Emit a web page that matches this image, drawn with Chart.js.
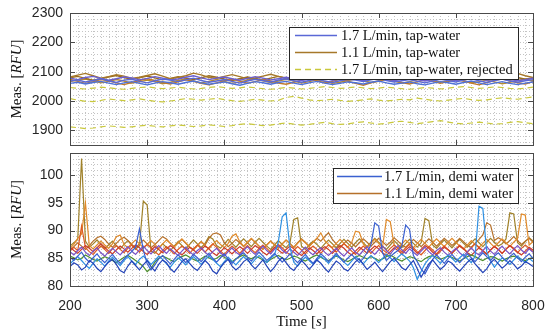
<!DOCTYPE html>
<html>
<head>
<meta charset="utf-8">
<script src="https://cdn.jsdelivr.net/npm/chart.js@4.4.0/dist/chart.umd.min.js"></script>
<style>
  html, body { margin: 0; padding: 0; background: #fff; }
  #wrap { position: relative; width: 550px; height: 334px; }
  #top { position: absolute; left: 0; top: 0; }
  #bot { position: absolute; left: 0; top: 150px; }
</style>
</head>
<body>
<div id="wrap">
  <canvas id="top" width="550" height="150"></canvas>
  <canvas id="bot" width="550" height="184"></canvas>
</div>
<script>
// ---- data ----
// sample times (s)
const timeTop = Array.from({ length: 61 }, (_, i) => 200 + 10 * i);
const timeBot = Array.from({ length: 121 }, (_, i) => 200 + 5 * i);

const xTickLabels = [200, 300, 400, 500, 600, 700, 800];
const topYTicks = [1900, 2000, 2100, 2200, 2300];
const botYTicks = [80, 85, 90, 95, 100];

// top panel: tap-water
const tapBlue1 = [2068,2072,2065,2070,2076,2069,2063,2071,2074,2067,
  2062,2069,2075,2071,2066,2072,2078,2070,2064,2068,
  2073,2067,2061,2068,2074,2070,2065,2071,2076,2069,
  2064,2070,2075,2068,2063,2069,2074,2071,2066,2072,
  2077,2070,2065,2069,2073,2067,2062,2068,2074,2070,
  2065,2071,2076,2069,2063,2070,2075,2068,2064,2069,2073];
const tapBlue2 = [2078,2073,2080,2084,2077,2071,2076,2082,2079,2072,
  2077,2083,2078,2072,2075,2081,2086,2079,2073,2078,
  2082,2076,2071,2077,2083,2078,2072,2076,2081,2075,
  2070,2076,2082,2077,2071,2075,2080,2074,2069,2075,
  2081,2076,2070,2074,2079,2073,2068,2074,2080,2075,
  2070,2076,2082,2077,2071,2075,2080,2074,2069,2073,2078];
const tapBlue3 = [2060,2064,2058,2063,2067,2061,2056,2062,2066,2060,
  2055,2061,2066,2062,2057,2063,2068,2062,2057,2061,
  2065,2059,2054,2060,2066,2062,2057,2063,2067,2061,
  2056,2062,2067,2061,2056,2060,2065,2062,2058,2064,
  2068,2062,2057,2061,2065,2059,2055,2061,2066,2062,
  2057,2063,2068,2062,2056,2061,2066,2060,2056,2061,2065];
const tapBrown1 = [2082,2088,2094,2086,2078,2083,2090,2085,2077,2081,
  2087,2093,2085,2076,2080,2086,2095,2089,2080,2078,
  2084,2090,2083,2075,2079,2085,2091,2084,2077,2082,
  2088,2083,2076,2080,2086,2092,2085,2078,2082,2089,
  2083,2076,2080,2087,2093,2086,2078,2082,2088,2082,
  2075,2079,2085,2091,2084,2077,2081,2088,2094,2086,2080];
const tapBrown2 = [2074,2067,2060,2066,2073,2069,2062,2056,2063,2070,
  2076,2070,2063,2058,2065,2072,2067,2060,2055,2062,
  2069,2075,2068,2061,2066,2073,2068,2061,2057,2064,
  2071,2076,2069,2062,2067,2074,2068,2060,2054,2062,
  2069,2075,2070,2063,2058,2065,2072,2067,2060,2066,
  2073,2068,2061,2055,2063,2070,2076,2069,2062,2058,2066];
const tapBrown3 = [2079,2084,2077,2071,2076,2082,2087,2080,2074,2079,
  2085,2079,2072,2077,2083,2078,2073,2079,2086,2081,
  2075,2070,2076,2082,2077,2072,2078,2084,2079,2073,
  2077,2083,2088,2081,2075,2079,2085,2080,2074,2078,
  2084,2079,2073,2077,2082,2076,2071,2077,2083,2078,
  2072,2077,2083,2089,2082,2076,2080,2086,2080,2074,2079];
const tapBrown4 = [2066,2071,2075,2069,2062,2067,2073,2068,2061,2065,
  2071,2066,2059,2064,2070,2075,2068,2062,2067,2073,
  2067,2060,2065,2071,2076,2069,2063,2068,2074,2068,
  2061,2066,2072,2067,2060,2064,2070,2075,2069,2063,
  2067,2073,2068,2061,2066,2072,2077,2070,2064,2068,
  2074,2069,2062,2066,2071,2065,2059,2064,2070,2075,2069];
const rejected1 = [2046,2043,2041,2044,2047,2045,2042,2040,2043,2046,
  2048,2045,2042,2044,2047,2044,2041,2043,2046,2049,
  2046,2043,2045,2048,2045,2042,2040,2043,2046,2044,
  2041,2043,2046,2049,2046,2043,2045,2048,2045,2042,
  2044,2047,2045,2042,2040,2043,2046,2044,2041,2044,
  2047,2049,2046,2043,2045,2048,2046,2043,2041,2044,2047];
const rejected2 = [2008,2003,1999,1998,2002,2007,2004,2001,2004,2007,
  2003,1999,1997,2000,2004,2008,2006,2003,2006,2009,
  2005,2001,1999,2002,2006,2003,2000,2002,2012,2016,
  2010,2004,2001,2003,2006,2002,1999,2001,2004,2007,
  2003,2000,2003,2006,2004,2010,2006,2002,2000,2003,
  2006,2009,2005,2002,2004,2008,2011,2008,2006,2010,2014];
const rejected3 = [1912,1909,1906,1908,1912,1915,1913,1910,1912,1915,
  1917,1914,1912,1915,1918,1916,1913,1915,1919,1916,
  1913,1916,1920,1923,1919,1916,1918,1922,1925,1921,
  1918,1920,1924,1927,1923,1920,1922,1926,1929,1925,
  1921,1924,1928,1931,1927,1923,1926,1930,1933,1928,
  1924,1922,1925,1928,1925,1921,1923,1927,1930,1926,1923];

// bottom panel: demi water, 1.7 L/min
const demiFast1 = [83.5,84.2,83.8,82.9,83.4,84.6,84.1,83.2,82.6,83.5,
  84.3,84.8,83.9,82.8,82.4,83.6,84.5,83.7,82.9,83.8,
  84.6,83.5,82.7,83.9,84.7,84.2,83.1,82.5,83.4,84.4,
  84.9,84.1,83.3,82.8,83.7,84.6,83.9,82.7,82.2,83.3,
  84.2,84.8,83.6,82.9,83.5,84.4,84.9,83.8,83.1,83.9,
  84.7,83.6,82.6,83.4,84.5,85.1,84.2,83.3,82.8,83.7,
  84.6,83.9,83.0,83.8,84.7,84.1,83.2,82.5,83.6,84.5,
  84.0,83.1,82.7,83.5,84.4,84.9,83.9,83.0,83.6,84.3,
  83.4,82.6,83.5,84.4,85.0,84.2,83.3,82.9,83.8,84.6,
  83.1,81.6,82.8,84.0,84.7,83.8,83.0,83.6,84.5,84.1,
  83.3,82.7,83.5,84.3,84.9,84.0,83.2,82.4,83.1,84.2,
  84.8,84.0,83.2,83.8,84.6,83.9,83.1,83.6,84.4,84.0,83.5];
const demiFast2 = [85.2,84.6,85.4,86.1,85.0,84.3,85.1,85.8,84.9,84.2,
  85.0,85.7,84.8,84.1,84.9,85.6,86.2,87.0,90.3,86.5,
  84.0,82.9,83.8,84.9,85.5,84.7,84.0,84.8,85.6,85.0,
  84.2,84.9,85.7,85.1,84.4,85.2,85.9,85.0,84.3,85.1,
  85.8,84.9,84.1,84.8,85.5,86.0,85.2,84.5,85.3,86.1,
  85.4,84.6,85.2,85.9,85.1,84.3,85.0,85.8,84.9,84.2,
  85.0,85.7,84.8,84.1,85.0,85.8,85.2,84.4,85.1,85.9,
  85.1,84.3,85.0,85.7,84.9,84.2,85.0,86.0,87.5,91.4,
  90.8,86.0,84.6,85.3,85.9,86.4,87.2,91.0,90.2,85.5,
  84.4,83.1,82.2,83.5,84.8,85.6,84.9,84.1,85.0,85.7,
  84.9,84.2,85.0,85.8,85.1,84.4,85.2,86.0,85.3,84.6,
  85.4,86.0,85.2,84.5,85.3,85.9,85.1,84.4,85.2,85.8,85.0];
const demiFast3 = [84.0,84.7,85.3,84.6,83.8,83.2,84.1,84.9,84.3,83.6,
  84.5,85.2,84.4,83.7,84.6,85.3,84.5,83.9,84.8,85.4,
  84.7,83.9,84.6,85.4,84.8,84.0,83.4,84.3,85.1,84.5,
  83.8,84.6,85.3,84.6,83.9,84.7,85.4,84.8,84.1,83.5,
  84.4,85.2,84.5,83.8,84.6,85.3,84.7,84.0,84.8,85.5,
  84.9,84.2,85.0,85.6,88.0,92.5,93.2,87.0,84.3,83.6,
  84.5,85.2,84.6,83.9,84.7,85.4,84.8,84.1,84.9,85.6,
  85.0,84.3,83.7,84.5,85.3,84.7,84.0,84.8,85.5,84.9,
  84.2,85.0,85.7,85.1,84.4,85.2,85.8,85.2,84.5,83.3,
  81.2,82.6,84.0,84.9,85.5,84.8,84.1,84.9,85.6,85.0,
  84.3,85.1,85.7,84.9,84.2,85.4,94.4,94.0,86.2,84.5,
  83.4,84.3,85.1,84.6,83.9,84.7,85.4,84.8,84.2,85.0,84.4];
const demiFast4 = [86.2,85.6,86.4,87.0,86.1,85.5,86.3,86.9,86.0,85.4,
  86.1,86.8,86.2,85.6,86.4,87.1,86.3,85.7,86.5,87.2,
  86.4,85.8,86.6,87.3,86.5,85.9,86.7,86.1,85.5,86.3,
  87.0,86.2,85.6,86.4,86.9,86.1,85.5,86.2,86.8,86.0,
  85.4,86.2,86.9,86.1,85.6,86.4,87.1,86.3,85.7,86.5,
  87.2,86.4,85.8,86.6,87.3,86.5,85.9,86.7,86.1,85.5,
  86.3,87.0,86.2,85.6,86.4,86.9,86.1,85.5,86.2,86.8,
  86.0,85.4,86.2,86.9,86.1,85.6,86.4,87.1,86.3,85.7,
  86.5,87.2,86.4,85.8,86.6,87.3,86.5,85.9,86.7,86.1,
  85.5,86.3,87.0,86.2,85.6,86.4,86.9,86.1,85.5,86.2,
  86.8,86.0,85.4,86.2,86.9,86.1,85.6,86.4,87.1,86.3,
  85.7,86.5,87.2,86.4,85.8,86.6,87.3,86.5,85.9,86.7,86.1];
const demiFast5 = [85.4,85.1,84.7,85.0,85.6,85.2,84.8,84.5,84.9,85.3,
  85.0,84.6,84.2,84.7,85.2,85.5,85.1,84.6,84.1,83.5,
  82.6,83.2,84.3,85.0,85.4,85.1,84.7,84.4,84.9,85.3,
  85.6,85.2,84.8,84.5,84.9,85.4,85.1,84.7,85.0,85.5,
  85.2,84.8,84.4,84.9,85.3,85.6,85.2,84.9,85.3,85.1,
  84.7,84.3,84.8,85.2,85.5,85.1,84.7,85.0,85.4,85.2,
  84.8,84.5,84.9,85.3,85.6,85.2,84.8,84.6,85.0,85.4,
  85.1,84.7,84.4,84.8,85.2,85.5,85.2,84.9,85.3,85.0,
  84.6,84.9,85.3,85.6,85.2,84.8,84.5,84.9,85.3,85.1,
  84.7,84.4,84.9,85.3,85.5,85.2,84.8,85.1,85.4,85.2,
  84.8,84.5,84.9,85.3,85.6,85.3,84.9,84.6,85.0,85.3,
  85.2,84.8,84.5,84.9,85.2,85.4,85.1,84.8,84.6,84.9,85.2];

// bottom panel: demi water, 1.1 L/min
const demiSlow1 = [87.2,87.8,88.4,103.0,88.1,87.0,87.6,88.3,87.5,86.8,
  87.4,88.1,87.3,86.7,87.5,88.2,87.4,86.6,87.3,95.3,
  94.6,86.3,85.9,86.8,87.6,87.0,86.4,87.2,88.0,87.3,
  86.7,87.5,88.3,87.6,86.9,87.7,88.9,88.5,87.3,86.8,
  87.6,88.4,87.7,87.0,87.8,88.5,87.8,87.1,87.9,88.6,
  87.9,87.2,86.6,87.4,88.2,87.5,86.9,87.7,92.0,92.3,
  87.2,86.6,87.4,88.1,87.5,86.8,87.6,88.3,87.6,86.9,
  87.7,88.4,87.7,87.0,87.8,88.5,87.8,87.1,87.9,88.6,
  87.9,87.2,86.6,87.4,88.2,87.5,86.9,87.7,88.4,87.7,
  87.0,87.8,92.2,91.8,87.4,86.8,87.6,88.3,87.6,86.9,
  87.7,88.4,87.7,87.0,87.8,88.5,87.8,87.1,87.9,88.6,
  87.9,87.2,87.6,88.5,93.2,93.0,87.8,87.2,88.0,88.7,88.1];
const demiSlow2 = [86.8,87.5,88.6,89.4,95.0,87.3,86.7,87.4,88.1,87.4,
  86.8,87.6,88.9,89.2,87.5,86.9,87.7,88.3,87.6,86.9,
  87.5,88.2,87.5,86.8,87.6,88.3,87.7,87.0,87.8,88.5,
  87.8,87.1,86.5,87.3,88.0,87.3,86.7,87.5,88.2,87.5,
  86.9,87.7,89.0,89.4,88.0,87.2,87.9,88.6,87.9,87.2,
  86.6,87.4,88.1,87.4,86.8,87.6,88.3,87.6,86.9,87.7,
  88.4,87.8,87.1,87.9,88.6,89.6,88.2,87.5,86.9,87.7,
  88.4,87.7,87.0,87.8,89.9,89.7,87.6,86.9,87.7,88.4,
  87.7,87.0,92.0,91.6,87.4,86.8,87.6,88.3,87.6,86.9,
  87.7,88.4,87.7,87.0,87.8,88.5,87.8,87.1,87.9,88.6,
  87.9,87.2,86.6,87.4,88.2,87.5,86.9,87.7,88.4,87.7,
  87.0,87.8,88.5,87.8,87.1,87.9,88.6,93.0,92.8,87.4,88.0];
const demiSlow3 = [86.3,87.0,86.4,90.8,86.9,86.2,85.7,86.5,87.2,86.6,
  85.9,86.7,87.3,86.6,86.0,86.8,87.4,86.8,86.1,86.9,
  87.5,86.9,86.2,85.6,86.4,87.1,86.5,85.8,86.6,87.2,
  86.6,85.9,86.7,87.4,86.8,86.1,86.9,87.6,87.0,86.3,
  85.7,86.5,87.2,86.6,85.9,86.7,87.3,86.6,86.0,86.8,
  87.4,86.8,86.1,86.9,87.5,86.9,86.2,85.6,86.4,87.1,
  86.5,85.8,86.6,87.2,86.6,85.9,86.7,87.4,86.8,86.1,
  86.9,87.6,87.0,86.3,85.7,86.5,87.2,86.6,85.9,86.7,
  87.3,86.6,86.0,86.8,87.4,86.8,86.1,86.9,87.5,86.9,
  86.2,85.6,86.4,87.1,86.5,85.8,86.6,87.2,86.6,85.9,
  86.7,87.4,86.8,86.1,86.9,87.6,87.0,86.3,85.7,86.5,
  87.2,86.6,85.9,86.7,87.3,86.6,86.0,86.8,87.4,86.8,86.2];
const demiSlow4 = [86.5,87.1,87.8,87.2,86.6,87.3,88.1,88.7,89.0,88.4,
  87.6,87.0,87.7,88.4,88.8,88.2,87.5,86.9,87.6,88.3,
  87.6,86.9,87.5,88.2,88.9,88.5,87.7,87.1,87.8,88.4,
  87.7,87.0,86.6,87.3,88.0,87.4,88.6,89.4,89.6,89.2,
  87.8,87.1,87.7,88.4,87.8,87.1,87.8,88.5,87.9,87.2,
  86.7,87.4,88.1,87.5,86.9,87.6,88.3,87.7,87.0,87.8,
  88.5,87.9,87.2,87.9,88.6,88.1,88.9,89.6,88.4,87.6,
  87.0,87.7,88.3,87.7,87.1,87.8,88.5,87.9,87.2,87.9,
  88.6,88.0,87.3,87.9,88.7,88.1,87.4,87.0,87.7,88.4,
  87.8,87.1,87.8,88.5,87.9,87.2,87.9,88.6,88.0,87.3,
  87.9,88.6,88.0,87.3,87.0,87.7,88.4,89.2,91.4,91.0,
  88.2,88.7,88.3,87.6,88.2,88.9,88.2,87.5,88.1,88.6,87.9];
const demiSlow5 = [87.0,86.4,85.9,86.6,87.3,86.8,86.2,86.9,87.6,87.0,
  86.3,85.8,86.5,87.2,86.7,86.1,86.8,87.4,86.9,86.2,
  85.7,86.4,87.1,86.6,86.0,86.7,87.3,86.8,86.1,85.6,
  86.3,87.0,86.5,85.9,86.6,87.2,86.7,86.0,85.5,86.2,
  86.9,86.4,85.8,86.5,87.1,86.6,85.9,86.6,87.3,86.8,
  86.1,85.6,86.3,87.0,86.5,85.9,86.6,87.2,86.7,86.0,
  85.5,86.2,86.9,86.4,85.8,86.5,87.1,86.6,85.9,86.6,
  87.3,86.8,86.1,85.6,86.3,87.0,86.5,85.9,86.6,87.2,
  86.7,86.0,85.5,86.2,86.9,86.4,85.8,86.5,87.1,86.6,
  85.9,86.6,87.3,86.8,86.1,85.6,86.3,87.0,86.5,85.9,
  86.6,87.2,86.7,86.0,85.5,86.2,86.9,86.4,85.8,86.5,
  87.1,86.6,85.9,86.6,87.3,86.8,86.1,85.6,86.3,87.0,86.5];

// ---- helpers ----
const SERIF = '"Liberation Serif", "DejaVu Serif", serif';
const SANS = '"Liberation Sans", Arial, sans-serif';

function series(times, vals, color, extra) {
  return Object.assign({
    data: vals.map((v, i) => ({ x: times[i], y: v })),
    borderColor: color,
    borderWidth: 1.2,
    pointRadius: 0,
    tension: 0,
    fill: false,
  }, extra || {});
}

// dotted minor grid + box with inward ticks
const gridFrame = {
  id: 'gridFrame',
  beforeDatasetsDraw(chart, args, o) {
    const { ctx, chartArea: a, scales: { x, y } } = chart;
    ctx.save();
    ctx.strokeStyle = '#c4c4c4';
    ctx.lineWidth = 1;
    ctx.setLineDash([1, 2]);
    for (let v = x.min; v <= x.max; v += o.xStep) {
      const px = Math.round(x.getPixelForValue(v)) + 0.5;
      ctx.beginPath(); ctx.moveTo(px, a.top); ctx.lineTo(px, a.bottom); ctx.stroke();
    }
    for (let v = Math.ceil(y.min / o.yStep) * o.yStep; v <= y.max; v += o.yStep) {
      const py = Math.round(y.getPixelForValue(v)) + 0.5;
      ctx.beginPath(); ctx.moveTo(a.left, py); ctx.lineTo(a.right, py); ctx.stroke();
    }
    ctx.restore();
  },
  afterDatasetsDraw(chart, args, o) {
    const { ctx, chartArea: a, scales: { x, y } } = chart;
    const L = 5;
    ctx.save();
    ctx.strokeStyle = '#4a4a4a';
    ctx.lineWidth = 1;
    ctx.strokeRect(Math.round(a.left) + 0.5, Math.round(a.top) + 0.5,
      Math.round(a.right - a.left), Math.round(a.bottom - a.top));
    ctx.beginPath();
    o.xMajor.forEach(v => {
      const px = Math.round(x.getPixelForValue(v)) + 0.5;
      ctx.moveTo(px, a.bottom); ctx.lineTo(px, a.bottom - L);
      ctx.moveTo(px, a.top); ctx.lineTo(px, a.top + L);
    });
    o.yMajor.forEach(v => {
      const py = Math.round(y.getPixelForValue(v)) + 0.5;
      ctx.moveTo(a.left, py); ctx.lineTo(a.left + L, py);
      ctx.moveTo(a.right, py); ctx.lineTo(a.right - L, py);
    });
    ctx.stroke();
    ctx.restore();
  }
};

// legend box inside the axes
const boxLegend = {
  id: 'boxLegend',
  afterDatasetsDraw(chart, args, o) {
    const ctx = chart.ctx;
    const items = chart.data.datasets.filter(d => d.legendLabel);
    ctx.save();
    ctx.fillStyle = '#fff';
    ctx.fillRect(o.x, o.y, o.w, o.h);
    ctx.strokeStyle = '#262626';
    ctx.lineWidth = 1;
    ctx.strokeRect(o.x + 0.5, o.y + 0.5, o.w, o.h);
    ctx.font = o.font;
    ctx.textBaseline = 'middle';
    items.forEach((d, i) => {
      const yy = Math.round(o.y + o.rowTop + i * o.rowH) + 0.5;
      ctx.strokeStyle = d.borderColor;
      ctx.lineWidth = 1.4;
      ctx.setLineDash(d.borderDash || []);
      ctx.beginPath();
      ctx.moveTo(o.x + o.lineX0, yy);
      ctx.lineTo(o.x + o.lineX1, yy);
      ctx.stroke();
      ctx.setLineDash([]);
      ctx.fillStyle = '#111';
      ctx.fillText(d.legendLabel, o.x + o.textX, yy + 1);
    });
    ctx.restore();
  }
};

// axis titles with an italic unit, LaTeX style
function drawMixed(ctx, parts, size) {
  let total = 0;
  parts.forEach(p => {
    ctx.font = (p[1] ? 'italic ' : '') + size + 'px ' + SERIF;
    total += ctx.measureText(p[0]).width;
  });
  let cx = -total / 2;
  parts.forEach(p => {
    ctx.font = (p[1] ? 'italic ' : '') + size + 'px ' + SERIF;
    ctx.fillText(p[0], cx, 0);
    cx += ctx.measureText(p[0]).width;
  });
}

const axisTitles = {
  id: 'axisTitles',
  afterDraw(chart, args, o) {
    const { ctx, chartArea: a } = chart;
    ctx.save();
    ctx.fillStyle = '#111';
    ctx.textBaseline = 'middle';
    ctx.textAlign = 'left';
    ctx.save();
    ctx.translate(o.yTitleX, (a.top + a.bottom) / 2);
    ctx.rotate(-Math.PI / 2);
    drawMixed(ctx, [['Meas. [', false], ['RFU', true], [']', false]], 15);
    ctx.restore();
    if (o.xTitle) {
      ctx.translate((a.left + a.right) / 2, o.xTitleY);
      drawMixed(ctx, [['Time [', false], ['s', true], [']', false]], 15);
    }
    ctx.restore();
  }
};

function xScale(showLabels, height) {
  return {
    type: 'linear', min: 200, max: 800,
    grid: { display: false, drawTicks: false },
    border: { display: false },
    afterBuildTicks: s => { s.ticks = xTickLabels.map(v => ({ value: v })); },
    afterFit: s => { s.height = height; s.paddingLeft = 0; s.paddingRight = 0; },
    ticks: {
      display: showLabels, padding: 12, color: '#262626',
      font: { family: SANS, size: 14 }, maxRotation: 0,
      callback: v => String(v),
    },
  };
}

function yScale(min, max, ticks) {
  return {
    type: 'linear', min: min, max: max,
    grid: { display: false, drawTicks: false },
    border: { display: false },
    afterBuildTicks: s => { s.ticks = ticks.map(v => ({ value: v })); },
    afterFit: s => { s.width = 70; s.paddingTop = 0; s.paddingBottom = 0; },
    ticks: {
      padding: 7, color: '#262626', font: { family: SANS, size: 14 },
      callback: v => String(v),
    },
  };
}

const common = {
  responsive: false,
  animation: false,
  events: [],
};

// ---- top panel ----
new Chart(document.getElementById('top'), {
  type: 'line',
  data: {
    datasets: [
      series(timeTop, tapBlue1, '#5a68d6', { legendLabel: '1.7 L/min, tap-water', borderWidth: 1.4 }),
      series(timeTop, tapBlue2, '#6b5fd0', { borderWidth: 1.4 }),
      series(timeTop, tapBlue3, '#4f72d8', { borderWidth: 1.4 }),
      series(timeTop, tapBrown1, '#a6782a', { legendLabel: '1.1 L/min, tap-water', borderWidth: 1.4 }),
      series(timeTop, tapBrown2, '#c07a28', { borderWidth: 1.4 }),
      series(timeTop, tapBrown3, '#9a6c1e', { borderWidth: 1.4 }),
      series(timeTop, tapBrown4, '#b58a30', { borderWidth: 1.4 }),
      series(timeTop, rejected1, '#c9c83c', { borderDash: [6, 4], legendLabel: '1.7 L/min, tap-water, rejected' }),
      series(timeTop, rejected2, '#c9c83c', { borderDash: [6, 4] }),
      series(timeTop, rejected3, '#c9c83c', { borderDash: [6, 4] }),
    ]
  },
  options: Object.assign({}, common, {
    layout: { padding: { left: 0, right: 17, top: 13, bottom: 0 } },
    scales: { x: xScale(false, 5), y: yScale(1850, 2300, topYTicks) },
    plugins: {
      legend: { display: false },
      tooltip: { enabled: false },
      gridFrame: { xStep: 10, yStep: 20, xMajor: xTickLabels, yMajor: topYTicks },
      boxLegend: { x: 289, y: 27, w: 229, h: 52, rowTop: 8, rowH: 17,
        lineX0: 6, lineX1: 48, textX: 52, font: '14.5px ' + SERIF },
      axisTitles: { yTitleX: 17 },
    },
  }),
  plugins: [gridFrame, boxLegend, axisTitles],
});

// ---- bottom panel ----
new Chart(document.getElementById('bot'), {
  type: 'line',
  data: {
    datasets: [
      series(timeBot, demiFast1, '#2343b8'),
      series(timeBot, demiFast2, '#3a60d0', { legendLabel: '1.7 L/min, demi water' }),
      series(timeBot, demiFast3, '#2f90e2'),
      series(timeBot, demiFast4, '#7a52c7'),
      series(timeBot, demiFast5, '#4e8f2e'),
      series(timeBot, demiSlow5, '#cc3b2a'),
      series(timeBot, demiSlow3, '#dd5a22'),
      series(timeBot, demiSlow2, '#e08a2a'),
      series(timeBot, demiSlow4, '#b5702a', { legendLabel: '1.1 L/min, demi water' }),
      series(timeBot, demiSlow1, '#a0822a'),
    ]
  },
  options: Object.assign({}, common, {
    layout: { padding: { left: 0, right: 17, top: 3, bottom: 0 } },
    scales: { x: xScale(true, 48), y: yScale(80, 104, botYTicks) },
    plugins: {
      legend: { display: false },
      tooltip: { enabled: false },
      gridFrame: { xStep: 10, yStep: 1, xMajor: xTickLabels, yMajor: botYTicks },
      boxLegend: { x: 333, y: 18, w: 185, h: 35, rowTop: 8, rowH: 17,
        lineX0: 4, lineX1: 49, textX: 51, font: '14.5px ' + SERIF },
      axisTitles: { yTitleX: 17, xTitle: true, xTitleY: 172 },
    },
  }),
  plugins: [gridFrame, boxLegend, axisTitles],
});
</script>
</body>
</html>
